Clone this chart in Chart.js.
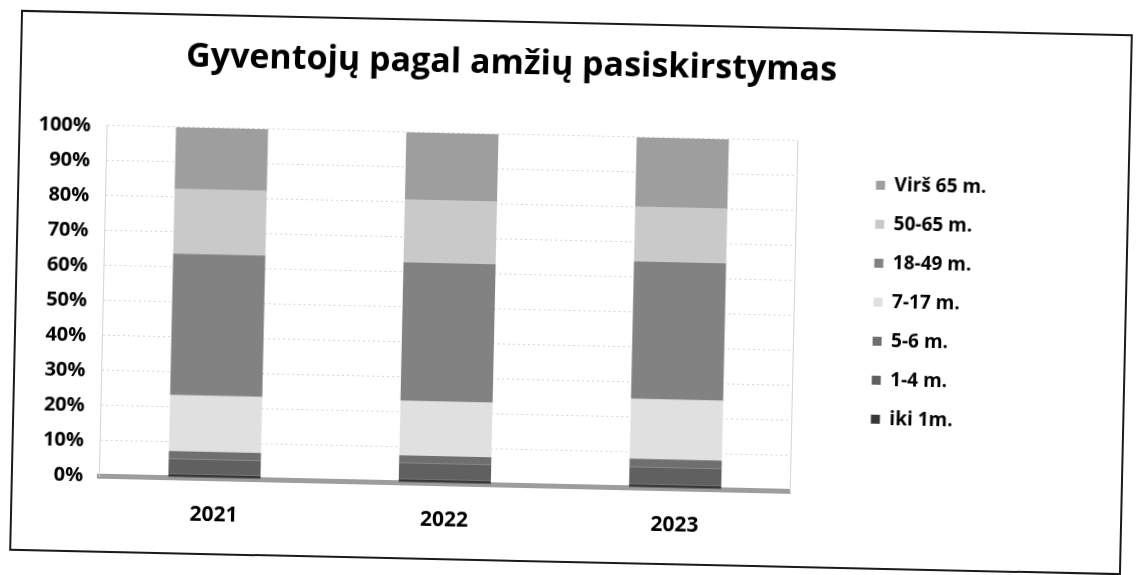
<!DOCTYPE html>
<html>
<head>
<meta charset="utf-8">
<script src="https://cdn.jsdelivr.net/npm/chart.js@4"></script>
<style>
  body { margin: 0; background: #fff; }
  #remelis {
    position: absolute; left: 15px; top: 22px;
    width: 1112px; height: 541px;
    box-sizing: border-box; border: 2px solid #1a1a1a;
    transform: rotate(1.26deg);
    background: #fff;
  }
  #grafikas { display: block; }
</style>
</head>
<body>
<div id="remelis"><canvas id="grafikas" width="1108" height="537"></canvas></div>
<script>
// duomenys (% nuo gyventoju skaiciaus)
const metai = ['2021', '2022', '2023'];
const iki1m = [0.9, 0.9, 1.0];
const m1_4 = [4.4, 4.6, 4.8];
const m5_6 = [2.2, 2.2, 2.4];
const m7_17 = [16.0, 15.6, 17.1];
const m18_49 = [40.4, 39.5, 39.2];
const m50_65 = [18.4, 17.9, 15.6];
const virs65 = [17.7, 19.3, 19.9];
const grupes = ['iki 1m.', '1-4 m.', '5-6 m.', '7-17 m.', '18-49 m.', '50-65 m.', 'Virš 65 m.'];
const spalvos = ['#383838', '#606060', '#6f6f6f', '#e0e0e0', '#828282', '#c9c9c9', '#9e9e9e'];

const reiksmes = [iki1m, m1_4, m5_6, m7_17, m18_49, m50_65, virs65];
const datasets = grupes.map((g, i) => ({
  label: g,
  data: reiksmes[i],
  backgroundColor: spalvos[i],
  borderWidth: 0,
  categoryPercentage: 1,
  barPercentage: 0.4
}));

const sriftas = '"Open Sans", Lato, sans-serif';

new Chart(document.getElementById('grafikas'), {
  type: 'bar',
  data: { labels: metai, datasets: datasets },
  options: {
    responsive: false,
    animation: false,
    layout: { padding: { top: 6, left: 2, right: 131, bottom: 0 } },
    plugins: {
      title: {
        display: true,
        text: 'Gyventojų pagal amžių pasiskirstymas',
        color: '#000',
        font: { family: sriftas, size: 34, weight: 'bold' },
        padding: { top: 15, bottom: 50 }
      },
      legend: {
        position: 'right',
        reverse: true,
        labels: {
          color: '#000',
          boxWidth: 9,
          boxHeight: 9,
          padding: 20,
          font: { family: sriftas, size: 19, weight: 'bold' }
        }
      },
      tooltip: { enabled: false }
    },
    scales: {
      x: {
        stacked: true,
        grid: { display: false },
        border: { display: true, color: '#9d9d9d', width: 5 },
        ticks: { color: '#000', padding: 16, font: { family: sriftas, size: 21, weight: 'bold' } },
        afterFit: function (s) { s.height = 75; }
      },
      y: {
        stacked: true,
        min: 0,
        max: 100,
        grid: { color: '#d4d4d4', drawTicks: false },
        border: { color: '#d4d4d4', dash: [2, 3] },
        ticks: {
          stepSize: 10,
          color: '#000',
          padding: 16,
          font: { family: sriftas, size: 20, weight: 'bold' },
          callback: v => v + '%'
        }
      },
      yR: {
        position: 'right',
        min: 0,
        max: 100,
        grid: { display: false },
        border: { color: '#d4d4d4', dash: [2, 3] },
        ticks: { display: false },
        afterFit: function (s) { s.width = 59; }
      }
    }
  }
});
</script>
</body>
</html>
